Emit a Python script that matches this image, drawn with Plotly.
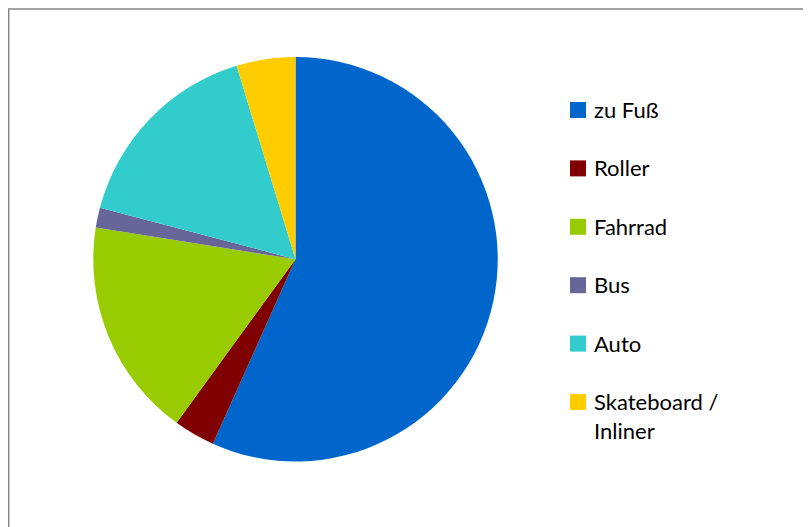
import plotly.graph_objects as go

# Anteile (in %)
labels = ["zu Fuß", "Roller", "Fahrrad", "Bus", "Auto", "Skateboard /<br>Inliner"]
values = [56.7, 3.3, 17.5, 1.6, 16.2, 4.7]
colors = ["#0066CC", "#800000", "#99CC00", "#666699", "#33CCCC", "#FFCC00"]

W, H = 811, 527
OFF = 8  # page body margin of the browser

def px(x):
    return (x - OFF) / W

def py(y):
    return 1 - (y - OFF) / H

fig = go.Figure(go.Pie(
    labels=labels,
    values=values,
    sort=False,
    direction="clockwise",
    rotation=0,
    textinfo="none",
    hoverinfo="label+percent",
    marker=dict(colors=colors, line=dict(width=0)),
    showlegend=False,
    domain=dict(x=[px(93.2), px(497.8)], y=[py(461.5), py(57)]),
))

# chart border (Excel style)
fig.add_shape(type="rect", xref="paper", yref="paper",
              x0=px(8.7), x1=1.05, y0=-0.05, y1=py(9),
              line=dict(color="#868686", width=1.5), fillcolor="rgba(0,0,0,0)")

# legend: square + text per slice
y_top = 110
step = 58.4
for i, (lab, col) in enumerate(zip(labels, colors)):
    yc = y_top + i * step
    fig.add_shape(type="rect", xref="paper", yref="paper",
                  x0=px(570), x1=px(586), y0=py(yc + 8), y1=py(yc - 8),
                  line=dict(width=0), fillcolor=col)
    fig.add_annotation(x=px(592), y=py(yc - 16), xref="paper", yref="paper",
                       text=lab, showarrow=False, xanchor="left", yanchor="top",
                       align="left", font=dict(size=22, color="#000000"))

fig.update_layout(
    width=W, height=H,
    margin=dict(l=0, r=0, t=0, b=0),
    paper_bgcolor="white",
    font=dict(family="Lato, 'Open Sans', sans-serif"),
)

fig.write_html("out.html")
